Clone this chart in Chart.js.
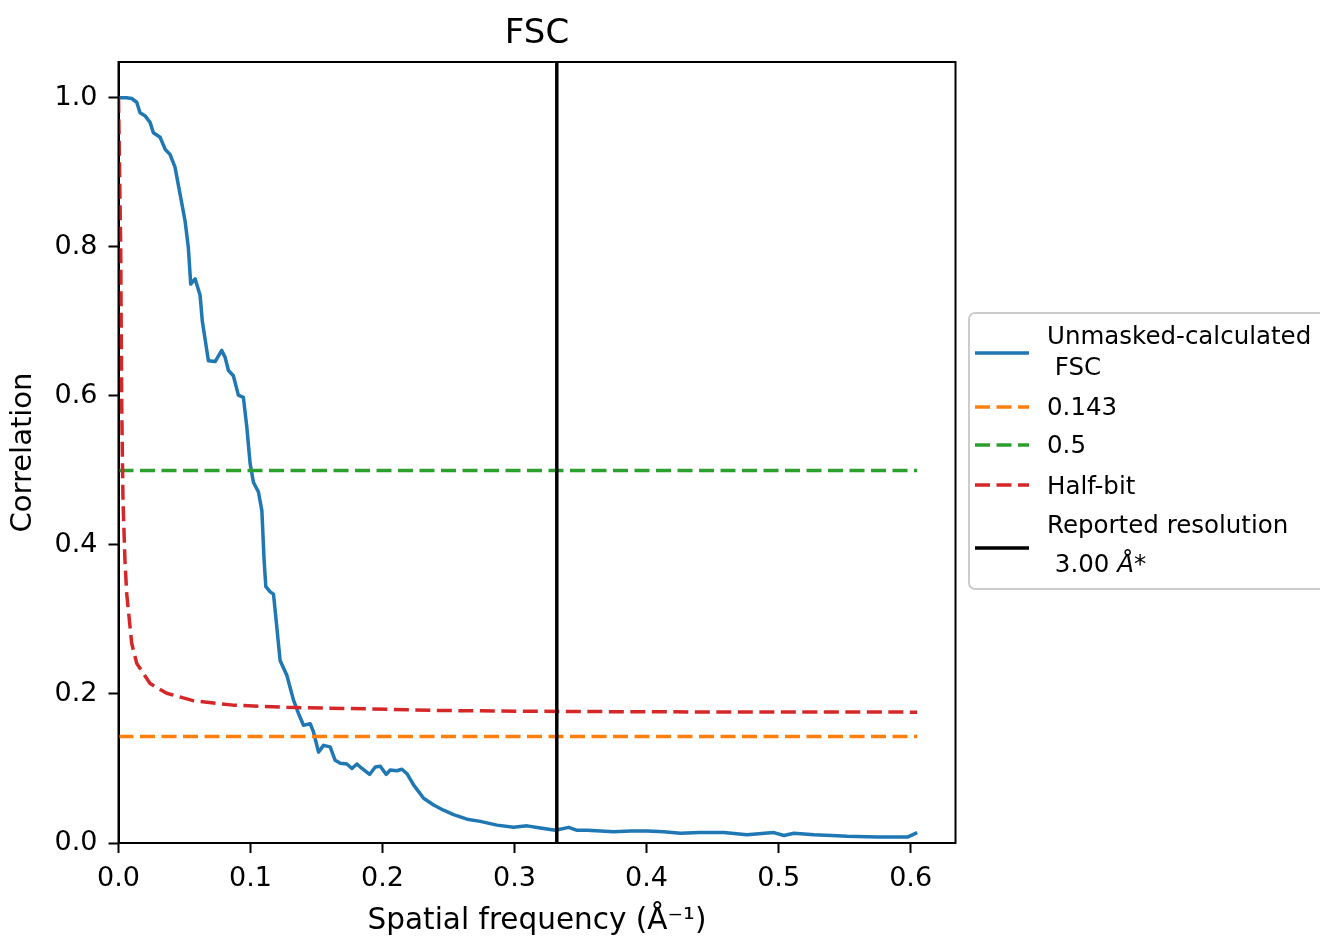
<!DOCTYPE html>
<html lang="en">
<head>
<meta charset="utf-8">
<title>FSC</title>
<script src="https://cdn.jsdelivr.net/npm/chart.js@4.4.1/dist/chart.umd.min.js"></script>
<style>
  html, body { margin: 0; padding: 0; background: #fff; }
  #contenedor { width: 1320px; height: 936px; }
</style>
</head>
<body>
<div id="contenedor"><canvas id="chartFsc" width="1320" height="936"></canvas></div>
<script>
// Curva FSC: frecuencia espacial (1/Å) y correlación
const fscFrecuencia = [
    0.000, 0.006, 0.010, 0.0138, 0.0163, 0.020, 0.0239, 0.0264, 0.0315, 0.0353,
    0.039, 0.0428, 0.0466, 0.0504, 0.0529, 0.0547, 0.058, 0.0618, 0.0635, 0.0669,
    0.0681, 0.0732, 0.0782, 0.0807, 0.0833, 0.087, 0.0908, 0.0946, 0.0972, 0.0997,
    0.1022, 0.106, 0.1086, 0.1103, 0.1116, 0.1149, 0.1174, 0.1199, 0.1224, 0.1275,
    0.1325, 0.1363, 0.1401, 0.1452, 0.1477, 0.1515, 0.1553, 0.1603, 0.1641, 0.168,
    0.173, 0.1768, 0.1806, 0.1844, 0.1902, 0.1945, 0.1983, 0.2028, 0.2058, 0.2109,
    0.2147, 0.2185, 0.2235, 0.2311, 0.2387, 0.2462, 0.2538, 0.264, 0.274, 0.2867,
    0.2993, 0.3095, 0.3196, 0.331, 0.341, 0.3474, 0.355, 0.365, 0.375, 0.388,
    0.4005, 0.413, 0.4257, 0.440, 0.4585, 0.476, 0.4964, 0.504, 0.5116, 0.5268,
    0.540, 0.552, 0.5748, 0.5976, 0.605
];
const fscCorrelacion = [
    1.000, 1.000, 0.999, 0.994, 0.980, 0.976, 0.967, 0.953, 0.947, 0.931,
    0.924, 0.907, 0.871, 0.835, 0.799, 0.750, 0.757, 0.735, 0.700, 0.661,
    0.647, 0.646, 0.661, 0.652, 0.634, 0.627, 0.601, 0.598, 0.558, 0.509,
    0.484, 0.471, 0.446, 0.379, 0.344, 0.337, 0.334, 0.290, 0.245, 0.225,
    0.192, 0.174, 0.158, 0.160, 0.149, 0.122, 0.131, 0.129, 0.111, 0.107,
    0.106, 0.100, 0.106, 0.100, 0.092, 0.102, 0.103, 0.092, 0.098, 0.097,
    0.099, 0.093, 0.078, 0.060, 0.051, 0.044, 0.038, 0.032, 0.029, 0.024,
    0.021, 0.023, 0.020, 0.017, 0.021, 0.017, 0.017, 0.016, 0.015, 0.016,
    0.016, 0.015, 0.013, 0.014, 0.014, 0.011, 0.014, 0.010, 0.013, 0.011,
    0.010, 0.009, 0.008, 0.008, 0.014
];

// Criterio half-bit
const halfBitFrecuencia = [
    0.000, 0.0017, 0.0024, 0.0034, 0.0049, 0.0062, 0.010, 0.0138, 0.0239, 0.0365,
    0.0565, 0.0868, 0.1277, 0.1884, 0.238, 0.289, 0.400, 0.500, 0.605
];
const halfBitCorrelacion = [
    1.000, 0.795, 0.594, 0.460, 0.379, 0.335, 0.268, 0.241, 0.214, 0.201,
    0.191, 0.185, 0.182, 0.180, 0.178, 0.177, 0.176, 0.1758, 0.1756
];

const umbral0143 = 0.143;
const umbral05 = 0.5;
const resolucionReportada = 0.332; // 1/3.00 Å

const ticksX = [0.0, 0.1, 0.2, 0.3, 0.4, 0.5, 0.6];
const ticksY = [0.0, 0.2, 0.4, 0.6, 0.8, 1.0];
const limiteX = 0.634;
const limiteY = 1.048;

const fuente = '"DejaVu Sans", "Liberation Sans", sans-serif';

// Leyenda (texto por líneas)
const leyendaTextos = [
    ['Unmasked-calculated', ' FSC'],
    ['0.143'],
    ['0.5'],
    ['Half-bit'],
    ['Reported resolution', ' 3.00 Å*']
];
const leyendaColores = ['#1f77b4', '#ff7f0e', '#2ca02c', '#d62728', '#000000'];

var puntos = function(xs, ys) {
    return xs.map((x, i) => ({ x: x, y: ys[i] }));
};

var xFinal = fscFrecuencia[fscFrecuencia.length - 1];
var guiones = [15, 6.5];

// Marco, título y leyenda dibujados a mano
const pluginDecoracion = {
    id: 'decoracion',
    afterDraw(chart) {
        const ctx = chart.ctx;
        const a = chart.chartArea;
        ctx.save();

        // marco completo del área
        ctx.strokeStyle = '#000';
        ctx.lineWidth = 2;
        ctx.strokeRect(a.left, a.top, a.right - a.left, a.bottom - a.top);

        // titulo
        ctx.fillStyle = '#000';
        ctx.font = '34px ' + fuente;
        ctx.textAlign = 'center';
        ctx.textBaseline = 'alphabetic';
        ctx.fillText('FSC', (a.left + a.right) / 2, 43);

        // caja de la leyenda
        var bx = 969, by = 313, bw = 380, bh = 276, r = 6;
        ctx.beginPath();
        ctx.moveTo(bx + r, by);
        ctx.lineTo(bx + bw - r, by);
        ctx.arcTo(bx + bw, by, bx + bw, by + r, r);
        ctx.lineTo(bx + bw, by + bh - r);
        ctx.arcTo(bx + bw, by + bh, bx + bw - r, by + bh, r);
        ctx.lineTo(bx + r, by + bh);
        ctx.arcTo(bx, by + bh, bx, by + bh - r, r);
        ctx.lineTo(bx, by + r);
        ctx.arcTo(bx, by, bx + r, by, r);
        ctx.closePath();
        ctx.fillStyle = 'rgba(255,255,255,0.8)';
        ctx.fill();
        ctx.strokeStyle = '#cccccc';
        ctx.lineWidth = 2;
        ctx.stroke();

        var yMuestra = [353, 407, 445, 485, 548];
        var yTexto = [[344, 375], [415], [453], [494], [533, 572]];
        var discontinua = [false, true, true, true, false];

        ctx.textAlign = 'left';
        ctx.textBaseline = 'alphabetic';
        leyendaTextos.forEach((lineas, i) => {
            ctx.beginPath();
            ctx.setLineDash(discontinua[i] ? guiones : []);
            ctx.strokeStyle = leyendaColores[i];
            ctx.lineWidth = 3.5;
            ctx.moveTo(975, yMuestra[i]);
            ctx.lineTo(1029, yMuestra[i]);
            ctx.stroke();
            ctx.setLineDash([]);

            ctx.fillStyle = '#000';
            lineas.forEach((txt, j) => {
                var x = 1047;
                var y = yTexto[i][j];
                // la Å va en cursiva como en mathtext
                var partes = txt.split(/(Å)/);
                partes.forEach(p => {
                    if (!p) return;
                    ctx.font = (p === 'Å' ? 'italic ' : '') + '24.5px ' + fuente;
                    ctx.fillText(p, x, y);
                    x += ctx.measureText(p).width;
                });
            });
        });

        ctx.restore();
    }
};

new Chart(document.getElementById('chartFsc'), {
    type: 'line',
    data: {
        datasets: [
            {
                label: 'Unmasked-calculated FSC',
                data: puntos(fscFrecuencia, fscCorrelacion),
                borderColor: '#1f77b4',
                borderWidth: 3.5,
                order: 5
            },
            {
                label: '0.143',
                data: puntos([0, xFinal], [umbral0143, umbral0143]),
                borderColor: '#ff7f0e',
                borderWidth: 3.5,
                borderDash: guiones,
                order: 4
            },
            {
                label: '0.5',
                data: puntos([0, xFinal], [umbral05, umbral05]),
                borderColor: '#2ca02c',
                borderWidth: 3.5,
                borderDash: guiones,
                order: 3
            },
            {
                label: 'Half-bit',
                data: puntos(halfBitFrecuencia, halfBitCorrelacion),
                borderColor: '#d62728',
                borderWidth: 3.5,
                borderDash: guiones,
                order: 2
            },
            {
                label: 'Reported resolution 3.00 Å*',
                data: puntos([resolucionReportada, resolucionReportada], [0, limiteY]),
                borderColor: '#000000',
                borderWidth: 3.5,
                order: 1
            }
        ]
    },
    options: {
        responsive: false,
        animation: false,
        devicePixelRatio: 1,
        layout: { padding: { top: 62, right: 364.5, bottom: 0, left: 0 } },
        plugins: {
            legend: { display: false },
            title: { display: false },
            tooltip: { enabled: false }
        },
        elements: {
            point: { radius: 0 },
            line: { tension: 0, fill: false, borderJoinStyle: 'round' }
        },
        scales: {
            x: {
                type: 'linear',
                min: 0,
                max: limiteX,
                afterBuildTicks: (eje) => { eje.ticks = ticksX.map(v => ({ value: v })); },
                afterFit: (eje) => { eje.height = 93; },
                grid: { display: true, drawOnChartArea: false, drawTicks: true, tickLength: 10, tickColor: '#000', tickWidth: 2 },
                border: { display: true, color: '#000', width: 2 },
                ticks: {
                    autoSkip: false,
                    maxRotation: 0,
                    padding: 10,
                    color: '#000',
                    font: { family: fuente, size: 27 },
                    callback: (v) => Number(v).toFixed(1)
                },
                title: {
                    display: true,
                    text: 'Spatial frequency (Å⁻¹)',
                    color: '#000',
                    font: { family: fuente, size: 29.5, lineHeight: 1 },
                    padding: { top: 0, bottom: 0 }
                }
            },
            y: {
                type: 'linear',
                min: 0,
                max: limiteY,
                afterBuildTicks: (eje) => { eje.ticks = ticksY.map(v => ({ value: v })); },
                afterFit: (eje) => { eje.width = 118.5; },
                grid: { display: true, drawOnChartArea: false, drawTicks: true, tickLength: 10, tickColor: '#000', tickWidth: 2 },
                border: { display: true, color: '#000', width: 2 },
                ticks: {
                    autoSkip: false,
                    padding: 11,
                    color: '#000',
                    font: { family: fuente, size: 27 },
                    callback: (v) => Number(v).toFixed(1)
                },
                title: {
                    display: true,
                    text: 'Correlation',
                    color: '#000',
                    font: { family: fuente, size: 29 },
                    padding: { top: 6, bottom: 0 }
                }
            }
        }
    },
    plugins: [pluginDecoracion]
});
</script>
</body>
</html>
